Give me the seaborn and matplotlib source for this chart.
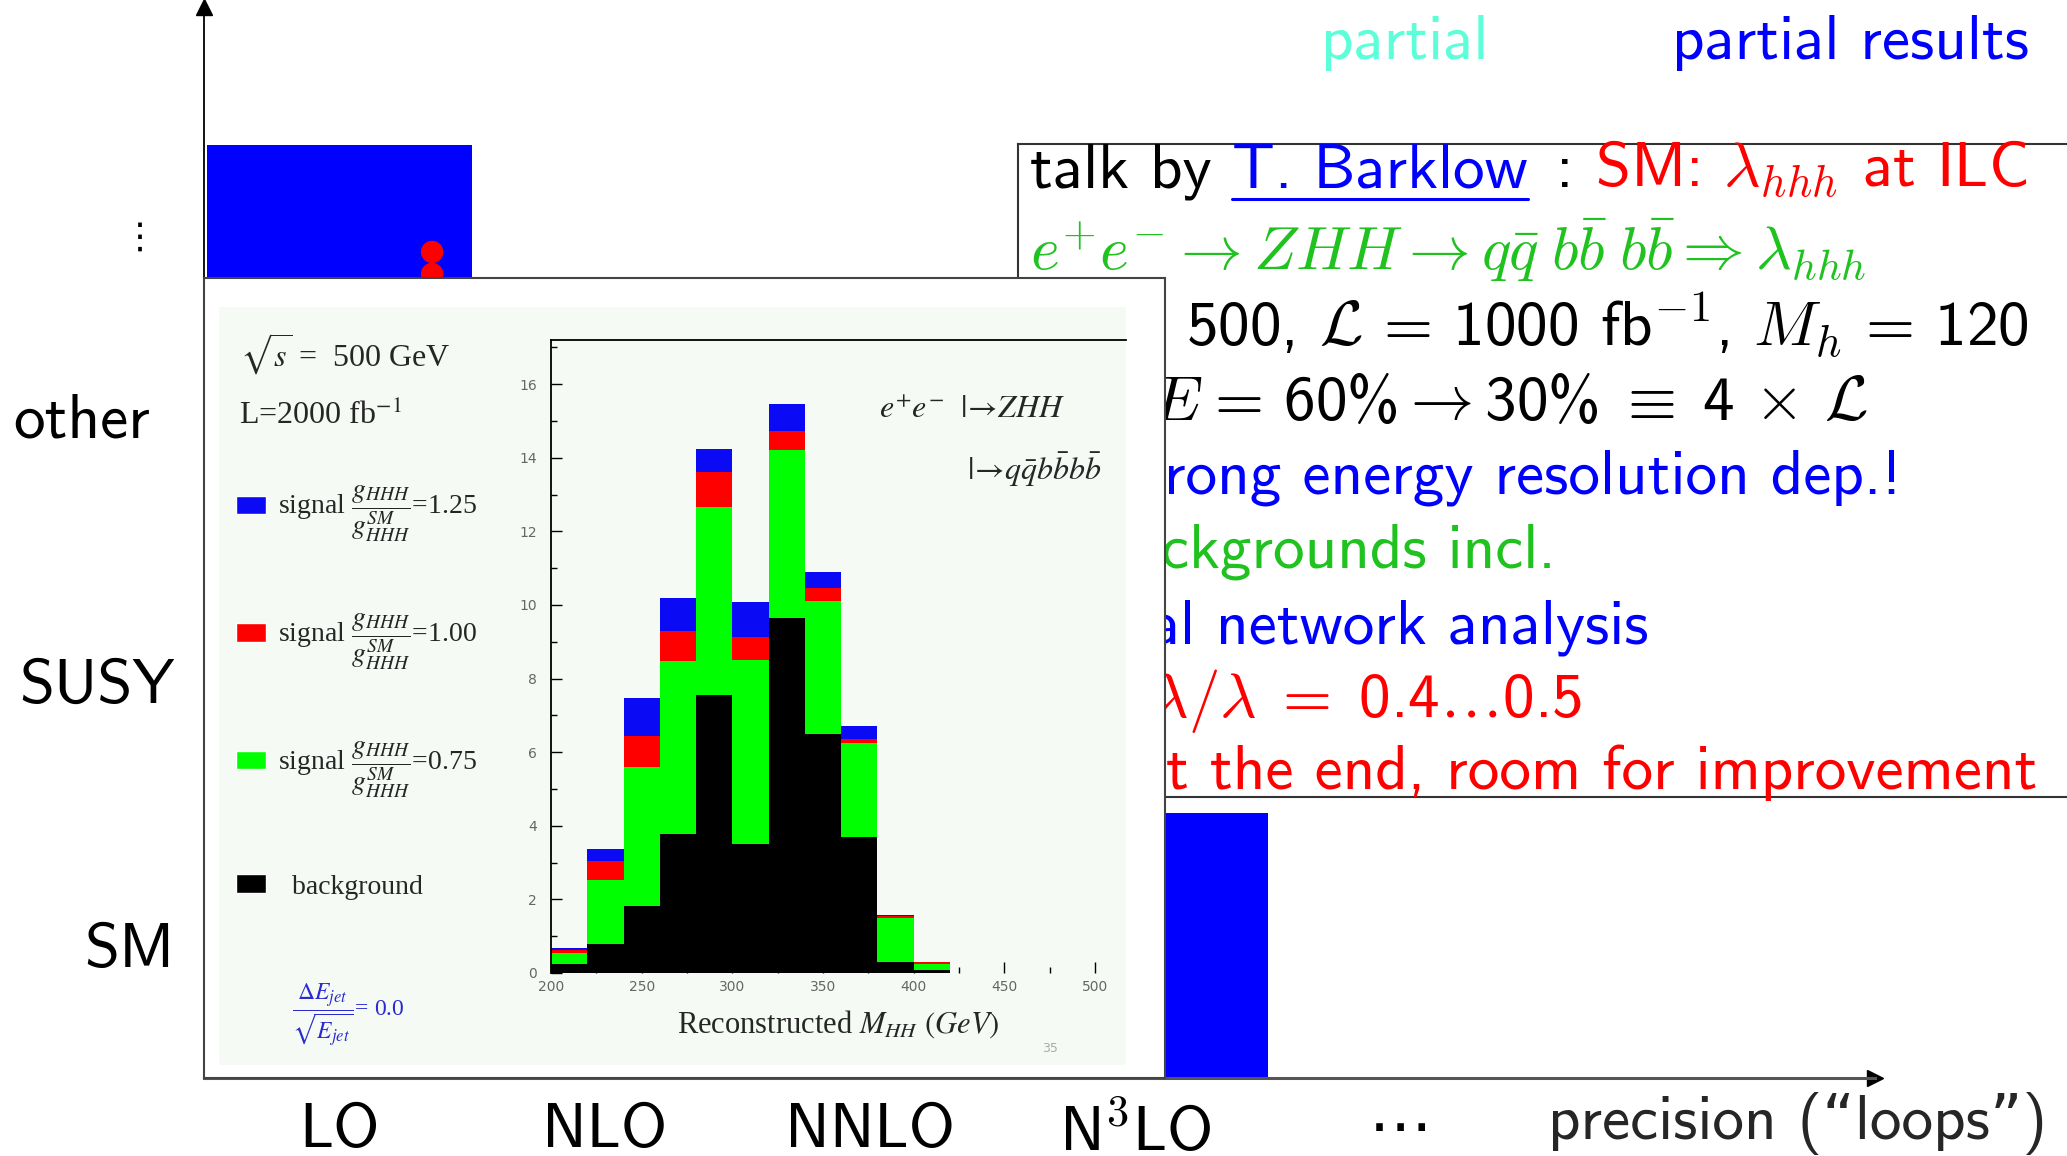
'''
Slide recreation: theory precision landscape with the ILC lambda_hhh inset
'''

import numpy as np
import pandas as pd
import seaborn as sns
import matplotlib.pyplot as plt
import matplotlib.transforms as mtransforms
from matplotlib.patches import Patch, Rectangle
from matplotlib.lines import Line2D
from matplotlib.font_manager import FontProperties
from matplotlib.ticker import MultipleLocator

# ---- main axes: precision vs model ----
x_cats = ["LO", "NLO", "NNLO", r"N$^\mathsf{3}$LO", "\u22ef"]
y_cats = ["SM", "SUSY", "other", "\u22ee"]
bar_heights = [3.52, 0, 0, 1.0, 0]
dot_x = [0.35, 0.35]
dot_y = [3.116, 3.033]

# ---- inset: reconstructed M_HH (Barklow) ----
mhh_edges = list(range(200, 421, 20))
mhh_centers = [e + 10 for e in mhh_edges[:-1]]
hist_bkg = [0.25, 0.78, 1.82, 3.77, 7.56, 3.50, 9.65, 6.49, 3.69, 0.30, 0.08]
hist_075 = [0.54, 2.53, 5.60, 8.47, 12.66, 8.50, 14.22, 10.12, 6.26, 1.49, 0.25]
hist_100 = [0.63, 3.04, 6.45, 9.30, 13.60, 9.14, 14.74, 10.45, 6.35, 1.56, 0.30]
hist_125 = [0.67, 3.38, 7.47, 10.19, 14.25, 10.07, 15.46, 10.90, 6.70, 1.57, 0.31]
hist_labels = [r"signal $\dfrac{g_{HHH}}{g^{SM}_{HHH}}$=1.25",
               r"signal $\dfrac{g_{HHH}}{g^{SM}_{HHH}}$=1.00",
               r"signal $\dfrac{g_{HHH}}{g^{SM}_{HHH}}$=0.75",
               "  background"]

sns.set_style("white")
plt.rcParams['font.family'] = ['cmss10', 'DejaVu Sans']
plt.rcParams['mathtext.fontset'] = 'cm'

W, H = 2067, 1156
def fx(px):
    return px / W
def fy(py):
    return 1 - py / H

FS = 45.5
fig = plt.figure(figsize=(W / 100, H / 100), dpi=100)

# main axes
ax = fig.add_axes([fx(204), fy(1078), (1875 - 204) / W, (1078 - 7) / H])
ax.set_zorder(1)
sns.barplot(x=np.arange(len(x_cats)), y=bar_heights, native_scale=True, width=1,
            color='#0000ff', saturation=1, errorbar=None, linewidth=0, ax=ax)
sns.scatterplot(x=dot_x, y=dot_y, color='#ff0000', s=260, edgecolor='none',
                legend=False, ax=ax)
ax.set_xlim(-0.51, 5.79)
ax.set_ylim(0, 4.04)
ax.set_xticks(range(len(x_cats)), x_cats)
ax.set_yticks([0.5, 1.5, 2.5, 3.18], y_cats)
ax.set_xlabel('')
ax.set_ylabel('')
ax.tick_params(axis='both', length=0, labelsize=FS, labelcolor='black')
ax.tick_params(axis='x', pad=18)
ax.tick_params(axis='y', pad=21)
for s in ['top', 'right']:
    ax.spines[s].set_visible(False)
ax.spines['left'].set_color('black')
ax.spines['left'].set_linewidth(1.3)
ax.spines['bottom'].set_color('#555555')
ax.spines['bottom'].set_linewidth(2.2)
ax.plot([1], [0], '>', color='black', ms=12, transform=ax.transAxes, clip_on=False)
ax.plot([0], [1], '^', color='black', ms=12, transform=ax.transAxes, clip_on=False)
ax.text((1798 - 204) / 1671, -(1139 - 1078) / 1071, "precision (\u201cloops\u201d)",
        transform=ax.transAxes, ha='center', va='baseline', fontsize=FS)

fig.text(fx(1405), fy(59), "partial", color='#5cffd8', fontsize=FS,
         ha='center', va='baseline')
fig.text(fx(1850), fy(59), "partial results", color='#0000ff', fontsize=FS,
         ha='center', va='baseline')

# ---- text box ----
ax_txt = fig.add_axes([fx(1018), fy(797), (2090 - 1018) / W, (797 - 144) / H])
ax_txt.set_zorder(2)
ax_txt.set_xticks([])
ax_txt.set_yticks([])
ax_txt.set_facecolor('white')
ax_txt.spines['right'].set_visible(False)
for s in ['top', 'bottom', 'left']:
    ax_txt.spines[s].set_color('#333333')
    ax_txt.spines[s].set_linewidth(1.5)

def ttext(x, y, s, color='black', ha='left', fs=FS):
    return ax_txt.text(fx(x), fy(y), s, transform=fig.transFigure, color=color,
                       ha=ha, va='baseline', fontsize=fs, clip_on=False)

blue, red, green = '#0000ff', '#ff0000', '#1fc21f'
ttext(1030, 187, "talk by")
t_bark = ttext(1232, 187, "T. Barklow", color=blue)
ttext(1565, 187, ":", ha='center')
ttext(1595, 187, r"SM: $\lambda_{hhh}$ at ILC", color=red)
ttext(1030, 270, r"$e^{+}e^{-} \rightarrow ZHH \rightarrow q\bar{q}\;b\bar{b}\;b\bar{b}"
      r" \Rightarrow \lambda_{hhh}$", color=green, fs=44.4)
ttext(1155, 346, r"$\sqrt{s}\;=$", ha='right')
ttext(1186, 346, r"500, $\mathcal{L}\,=\,$1000 fb$^{-1}$, $M_h\,=\,$120")
ttext(1203, 420, r"$\Delta E$", ha='right')
ttext(1203, 420, r"$=\,$60%$\rightarrow$30%$\;\equiv\;$4$\,\times\,\mathcal{L}$")
ttext(1164, 494, "st", color=blue, ha='right')
ttext(1164, 494, "rong energy resolution dep.!", color=blue)
ttext(1161, 568, "ba", color=green, ha='right')
ttext(1161, 568, "ckgrounds incl.", color=green)
ttext(1180, 643, "neura", color=blue, ha='right')
ttext(1180, 643, "l network analysis", color=blue)
ttext(1188, 717, r"$\Delta\lambda$", color=red, ha='right')
ttext(1188, 717, r"$/\lambda\;=\;$0.4$\ldots$0.5", color=red)
ttext(1166, 789, "a", color=red, ha='right')
ttext(1166, 789, "t the end, room for improvement", color=red)

# ---- inset box ----
ax_box = fig.add_axes([fx(204), fy(1078), (1165 - 204) / W, (1078 - 278) / H])
ax_box.set_zorder(5)
ax_box.set_xticks([])
ax_box.set_yticks([])
ax_box.set_facecolor('white')
for s in ax_box.spines.values():
    s.set_color('#444444')
    s.set_linewidth(1.5)
ax_box.add_patch(Rectangle(((219 - 204) / 961, (1078 - 1065) / 800),
                           (1126 - 219) / 961, (1065 - 307) / 800,
                           transform=ax_box.transAxes, color='#f5faf5', lw=0))

serif = 'Liberation Serif'
ax_box.text(fx(240), fy(367), r"$\sqrt{s}$ =  500 GeV", transform=fig.transFigure,
            family=serif, math_fontfamily='stix', fontsize=23, va='baseline')
ax_box.text(fx(239), fy(424), r"L=2000 fb$^{-1}$", transform=fig.transFigure,
            family=serif, math_fontfamily='stix', fontsize=23, va='baseline')
ax_box.text(fx(292), fy(1015), r"$\dfrac{\Delta E_{jet}}{\sqrt{E_{jet}}}$= 0.0",
            transform=fig.transFigure, family=serif, math_fontfamily='stix',
            fontsize=17, color='#2a2ad0', va='center')
ax_box.text(fx(1050), fy(1048), "35", transform=fig.transFigure, fontsize=9,
            family='DejaVu Sans', color='#aaaaaa', ha='center', va='center')

# ---- histogram ----
ax_h = fig.add_axes([fx(551), fy(973), (1126 - 551) / W, (973 - 340) / H])
ax_h.set_zorder(6)
ax_h.set_facecolor('#f5faf5')
hist_colors = ['#0a0af5', '#ff0000', '#00ff00', '#000000']
for vals, col in zip([hist_125, hist_100, hist_075, hist_bkg], hist_colors):
    df = pd.DataFrame({'mhh': mhh_centers, 'n': vals})
    sns.histplot(data=df, x='mhh', weights='n', bins=mhh_edges, color=col, alpha=1,
                 linewidth=0, ax=ax_h)
ax_h.set_xlim(200, 517)
ax_h.set_ylim(0, 17.2)
ax_h.set_ylabel('')
ax_h.set_xticks(np.arange(200, 501, 50))
ax_h.set_yticks(np.arange(0, 17, 2))
ax_h.xaxis.set_minor_locator(MultipleLocator(25))
ax_h.yaxis.set_minor_locator(MultipleLocator(1))
ax_h.tick_params(axis='both', which='both', direction='in', labelsize=10,
                 labelcolor='#666666', color='black', width=1,
                 labelfontfamily='DejaVu Sans')
ax_h.tick_params(axis='y', which='both', left=True, pad=10)
ax_h.tick_params(axis='x', which='both', bottom=True, pad=5)
ax_h.tick_params(which='major', length=8)
ax_h.tick_params(which='minor', length=4)
ax_h.spines['bottom'].set_visible(False)
ax_h.spines['right'].set_visible(False)
for s in ['top', 'left']:
    ax_h.spines[s].set_color('black')
    ax_h.spines[s].set_linewidth(1.3)
ax_h.set_xlabel(r"Reconstructed $M_{HH}$ $(GeV)$", family=serif,
                math_fontfamily='stix', fontsize=22, labelpad=10)
ax_h.text(fx(1065), fy(409), r"$e^{+}e^{-}\ \ |\!\rightarrow\!ZHH$",
          transform=fig.transFigure, math_fontfamily='stix', fontsize=23,
          ha='right', va='center')
ax_h.text(fx(1102), fy(470), r"$|\!\rightarrow\!q\bar{q}b\bar{b}b\bar{b}$",
          transform=fig.transFigure, math_fontfamily='stix', fontsize=23,
          ha='right', va='center')

handles = [Patch(facecolor=c, label=l) for c, l in zip(hist_colors, hist_labels)]
leg_kw = dict(bbox_transform=fig.transFigure, frameon=False,
              prop=FontProperties(family=serif, size=20, math_fontfamily='stix'),
              handlelength=1.08, handleheight=0.65, handletextpad=0.43,
              borderpad=0, borderaxespad=0)
leg1 = ax_h.legend(handles=handles[:3], loc='center left',
                   bbox_to_anchor=(fx(236), fy(642)), labelspacing=2.43, **leg_kw)
ax_h.add_artist(leg1)
ax_h.legend(handles=handles[3:], loc='center left',
            bbox_to_anchor=(fx(236), fy(887)), **leg_kw)

# nudge two y labels on the main axis
for lab in ax.get_yticklabels():
    if lab.get_text() == "other":
        lab.set_transform(lab.get_transform() + mtransforms.ScaledTranslation(
            -0.25, 0, fig.dpi_scale_trans))
    if lab.get_text() == "\u22ee":
        lab.set_fontsize(26)
        lab.set_transform(lab.get_transform() + mtransforms.ScaledTranslation(
            -0.17, 0, fig.dpi_scale_trans))

# underline the speaker name
renderer = fig.canvas.get_renderer()
bb = t_bark.get_window_extent(renderer=renderer)
ax_txt.add_line(Line2D([bb.x0 / W, bb.x1 / W], [fy(199), fy(199)],
                       transform=fig.transFigure, color=blue, lw=2.2, clip_on=False))

fig.savefig('out.png', dpi=100)
